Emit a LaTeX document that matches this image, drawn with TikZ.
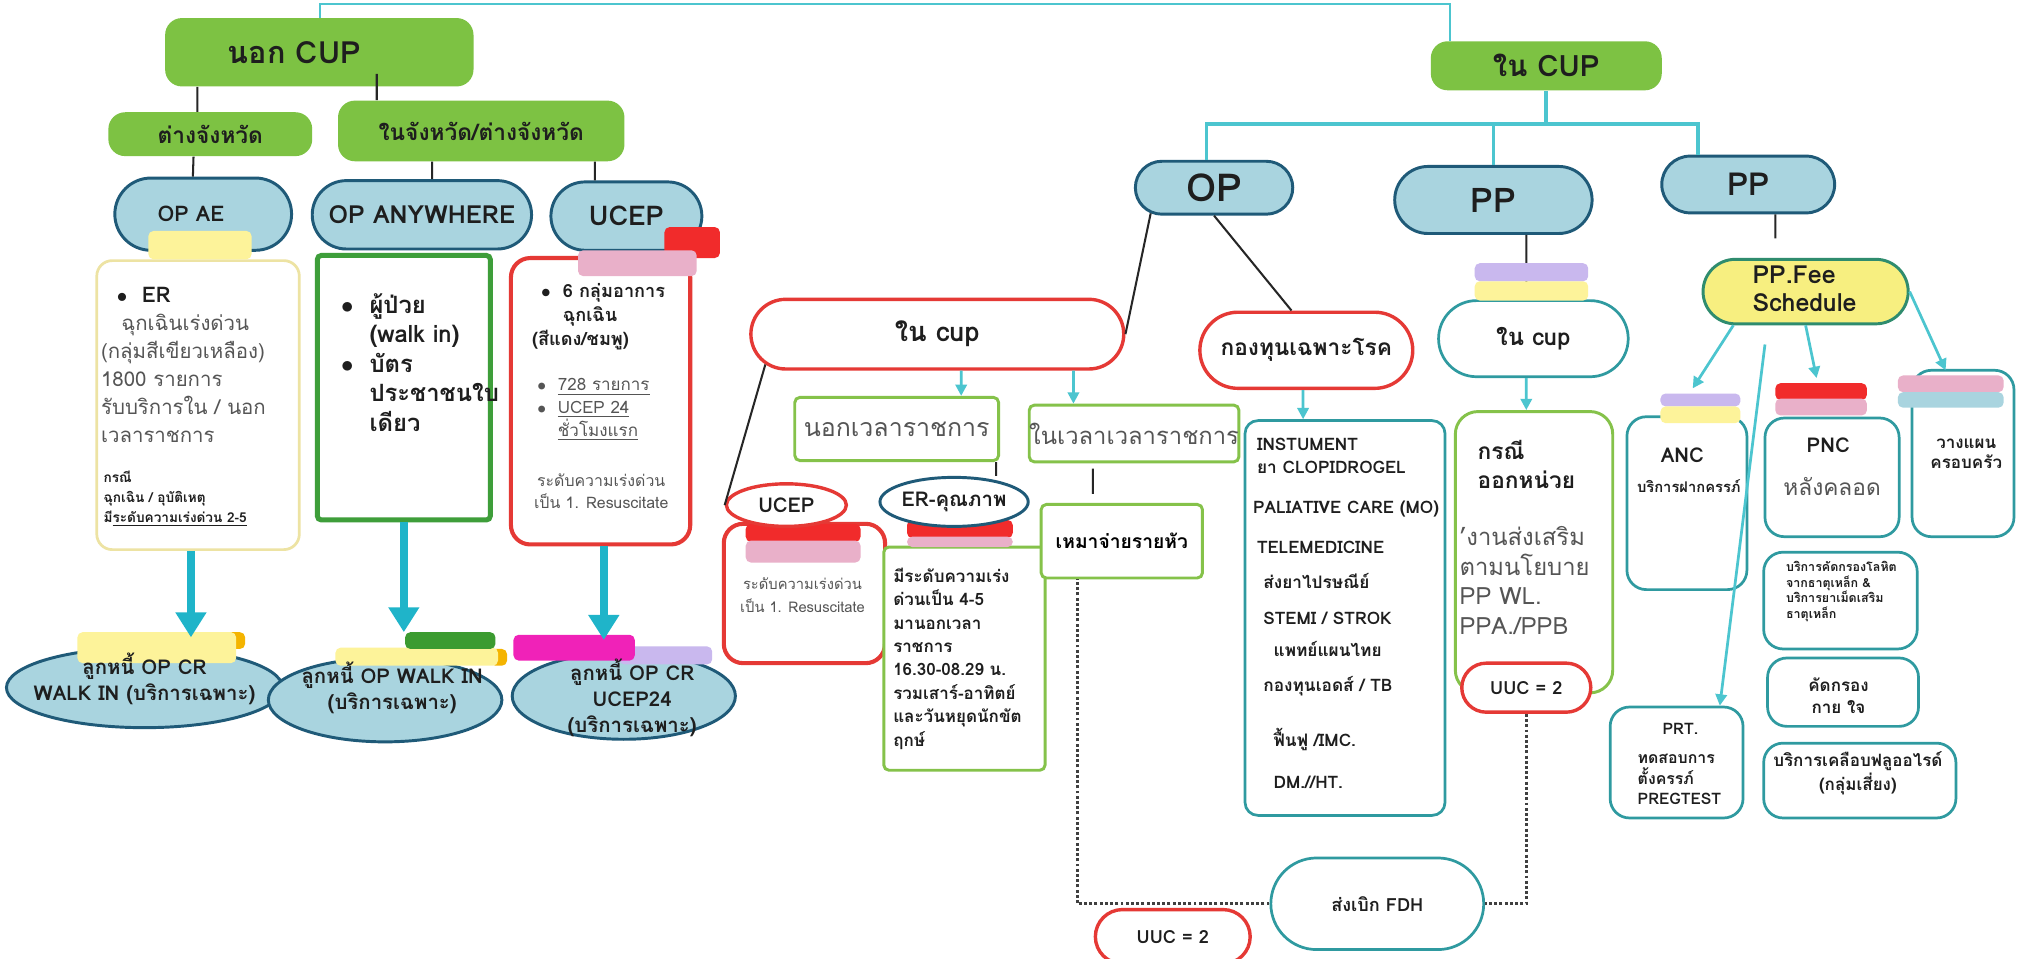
\documentclass[tikz,border=0pt]{standalone}
\usepackage{fontspec}
\setmainfont{Loma}[Script=Thai]
\usepackage{tikz}
\usetikzlibrary{positioning,arrows.meta,shapes.misc,shapes.geometric,calc}
\definecolor{palGreen}{HTML}{7DC243}
\definecolor{palBlueLt}{HTML}{A9D4DF}
\definecolor{palNavy}{HTML}{1F5A78}
\definecolor{palCyan}{HTML}{1FB4C9}
\definecolor{palCyanLt}{HTML}{4CC5CF}
\definecolor{palRed}{HTML}{E53935}
\definecolor{palLime}{HTML}{85C24A}
\definecolor{palGrnDk}{HTML}{3E9E3A}
\definecolor{palTeal}{HTML}{2F9AA0}
\definecolor{palSand}{HTML}{EDE3A3}
\definecolor{palInk}{HTML}{1E1E1E}
\definecolor{palGrayTx}{HTML}{555555}
\definecolor{tabYellow}{HTML}{FDF39A}
\definecolor{tabLav}{HTML}{C9B8EE}
\definecolor{tabPink}{HTML}{E9B0C9}
\definecolor{tabRed}{HTML}{F12B2B}
\definecolor{tabMag}{HTML}{F022B8}
\definecolor{tabGreen}{HTML}{3B9B30}
\definecolor{tabOrange}{HTML}{F4B400}
\definecolor{tabBlue}{HTML}{A9D4DF}
\definecolor{feeYellow}{HTML}{F7EF80}
\definecolor{feeEdge}{HTML}{2F8C6E}
\newcommand{\fsz}[2]{\fontsize{#1}{#2}\selectfont}
\tikzset{
  sz/.style 2 args={minimum width=#1*0.2mm, minimum height=#2*0.2mm, inner sep=0pt},
  blob/.style={rectangle, fill=palGreen, rounded corners=2.6mm, text=palInk},
  pill/.style={rounded rectangle, draw=palNavy, line width=1.3pt, fill=palBlueLt,
               text=palInk},
  pillred/.style={rounded rectangle, draw=palRed, line width=1.5pt, fill=white,
                  text=palInk},
  pillteal/.style={rounded rectangle, draw=palTeal, line width=1.2pt, fill=white,
                   text=palInk},
  oval/.style={ellipse, draw=palNavy, line width=1.3pt, fill=palBlueLt},
  ovalred/.style={ellipse, draw=palRed, line width=1.5pt, fill=white, text=palInk},
  ovalnavy/.style={ellipse, draw=palNavy, line width=1.3pt, fill=white, text=palInk},
  card/.style={rectangle, draw=#1, fill=white, line width=1.2pt, rounded corners=2.4mm},
  card/.default=palLime,
  tabbar/.style={rounded corners=0.8mm},
  txt/.style={anchor=west, align=left, inner sep=0pt, text=palInk},
  lbl/.style={align=center, inner sep=0pt, text=palInk},
  elltx/.style={lbl, font=\fsz{9}{11.5}\bfseries},
  link/.style={draw=black!85, line width=0.9pt},
  topline/.style={draw=palCyanLt, line width=0.7pt},
  treeline/.style={draw=palCyanLt, line width=1.6pt},
  bigarrow/.style={draw=palCyan, line width=3.4pt, -{Triangle[width=13pt,length=11pt]}},
  thinarrow/.style={draw=palCyanLt, line width=1.2pt, -{Triangle[width=5pt,length=5pt]}},
  dotline/.style={draw=black!75, line width=1.3pt, densely dotted},
}

\begin{document}
\begin{tikzpicture}[x=0.2mm, y=-0.2mm]
\useasboundingbox (0,0) rectangle (1568,743);
\fill[white] (0,0) rectangle (1568,743);

%% Outside CUP
\node[blob, sz={239}{53}, font=\fsz{13.5}{15}\bfseries] (nocup) at (247.5,40.5) {\hspace*{-7.8mm}นอก CUP};
\node[blob, sz={158}{34}, font=\fsz{10}{12}\bfseries] (tjw)  at (163,104)   {ต่างจังหวัด};
\node[blob, sz={222}{47}, font=\fsz{10}{12}\bfseries] (injw) at (373,101.5) {ในจังหวัด/ต่างจังหวัด};

\node[pill, sz={137}{56}, font=\fsz{9.5}{11}\bfseries] (opae)  at (157.5,166) {\hspace*{-3.8mm}OP AE};
\node[pill, sz={170}{53}, font=\fsz{11}{13}\bfseries]  (opany) at (327,166.5)  {OP ANYWHERE};
\node[pill, sz={117}{53}, font=\fsz{12}{14}\bfseries]  (ucep1) at (485.5,167.5) {UCEP};

\draw[link] ([xshift=-18.9mm]nocup.south) -- ([xshift=-2mm]tjw.north);
\draw[link] ([xshift=8.9mm,yshift=2mm]nocup.south) -- ([xshift=-16.2mm]injw.north);
\draw[link] ([xshift=-2.6mm]tjw.south) -- ([xshift=-1.6mm]opae.north);
\draw[link] ([xshift=-7.6mm]injw.south) -- ([xshift=1.6mm]opany.north);
\draw[link] ([xshift=17.6mm]injw.south) -- ([xshift=-4.9mm]ucep1.north);

% detail boxes
\node[card=palSand, sz={157}{224}] (box1) at (153.5,314) {};
\node[card=palGrnDk, sz={134}{205}, line width=2.2pt, rounded corners=0.6mm] (box2) at (313,300.5) {};
\node[card=palRed, sz={139}{222}, line width=1.8pt, rounded corners=3mm] (box3) at (465.5,311) {};

\fill[tabbar, tabYellow] (115,179) rectangle (195,201);
\fill[tabbar, tabRed]    (515,176) rectangle (558,200);
\fill[tabbar, tabPink]   (448,194) rectangle (540,214);

\node[txt, font=\fsz{9}{12.3}, text=palGrayTx] (ertx) at (78,283)
  {\hspace*{7pt}{\color{palInk}\fsz{9.5}{12.3}\bfseries$\bullet$\ \ ER}\\\hspace*{9pt}ฉุกเฉินเร่งด่วน\\(กลุ่มสีเขียวเหลือง)\\1800 รายการ\\รับบริการใน / นอก\\เวลาราชการ};
\node[txt, font=\fsz{6}{8.8}\bfseries] (ercase) at (80,386.5)
  {กรณี\\ฉุกเฉิน / อุบัติเหตุ\\มี\underline{ระดับความเร่งด่วน 2-5}};
\node[txt, font=\fsz{10.5}{13}\bfseries] (walktx) at (264,281)
  {$\bullet$\ \ ผู้ป่วย\\\phantom{$\bullet$\ \ }(walk in)\\$\bullet$\ \ บัตร\\\phantom{$\bullet$\ \ }ประชาชนใบ\\\phantom{$\bullet$\ \ }เดียว};
\node[txt, font=\fsz{8}{10.5}\bfseries] (uceptx) at (412,245.5)
  {\hspace*{4pt}$\bullet$\ \ 6 กลุ่มอาการ\\\hspace*{4pt}\phantom{$\bullet$\ \ }ฉุกเฉิน\\(สีแดง/ชมพู)};
\node[txt, font=\fsz{7.5}{10}, text=palGrayTx] (ucepls) at (416,317.5)
  {$\bullet$\ \ \underline{728 รายการ}\\$\bullet$\ \ \underline{UCEP 24}\\\phantom{$\bullet$\ \ }\underline{ชั่วโมงแรก}};
\node[lbl, font=\fsz{7}{9.7}, text=palGrayTx] (ucepres) at (466,380.5)
  {ระดับความเร่งด่วน\\เป็น 1. Resuscitate};

% debtor ovals
\node[oval, sz={214}{62}] (ell1) at (112,533)   {};
\node[oval, sz={181}{65}] (ell2) at (298.5,542.5) {};
\node[oval, sz={173}{67}] (ell3) at (483.5,539.5) {};

\fill[tabbar, tabOrange] (176,490) rectangle (190,503);
\fill[tabbar, tabYellow] (60,490)  rectangle (183,514);
\fill[tabbar, tabOrange] (380,503) rectangle (393,516);
\fill[tabbar, tabYellow] (260,502) rectangle (386,516);
\fill[tabbar, tabGreen]  (314,490) rectangle (384,503);
\fill[tabbar, tabLav]    (480,501) rectangle (552,515);
\fill[tabbar, tabMag]    (398,492) rectangle (492,512);

\coordinate (tip1) at (148,494);
\coordinate (tip2) at (313,490);
\coordinate (tip3) at (468,496);
\draw[bigarrow] (box1.south -| tip1) -- (tip1);
\draw[bigarrow] (box2.south -| tip2) -- (tip2);
\draw[bigarrow] (box3.south -| tip3) -- (tip3);

\node[elltx] (ell1tx) at (112,526.5) {ลูกหนี้ OP CR\\WALK IN (บริการเฉพาะ)};
\node[elltx] (ell2tx) at (304,533)   {ลูกหนี้ OP WALK IN\\(บริการเฉพาะ)};
\node[elltx] (ell3tx) at (490,541)   {ลูกหนี้ OP CR\\UCEP24\\(บริการเฉพาะ)};

%% Inside CUP
\node[blob, sz={179}{38}, font=\fsz{13}{15}\bfseries] (incup) at (1198.5,51) {ใน CUP};
\node[pill, sz={122}{41}, font=\fsz{17}{19}\bfseries] (op)  at (941,145.5)  {OP};
\node[pill, sz={153}{52}, font=\fsz{15}{17}\bfseries] (pp1) at (1157.5,155) {PP};
\node[pill, sz={134}{44}, font=\fsz{14}{16}\bfseries] (pp2) at (1355,143)   {PP};

% top link between branches
\coordinate (topL) at (248,3);
\coordinate (topR) at (1124,3);
\draw[topline] (topL |- nocup.north) -- (topL) -- (topR) -- (topR |- incup.north);

\coordinate (barL) at (935,96);
\coordinate (barR) at (1316,96);
\draw[treeline] (incup.south) -- (incup.south |- barL);
\draw[treeline] (barL |- op.north) -- (barL) -- (barR) -- (barR |- pp2.north);
\draw[treeline] (pp1.north) -- (pp1.north |- barL);

%% OP branch
\node[pillred, sz={289}{54}, font=\fsz{12}{14}\bfseries] (incup1)  at (726.5,259)   {ใน cup};
\node[pillred, sz={165}{59}, font=\fsz{10}{12}\bfseries] (kongtun) at (1012.5,271.5) {กองทุนเฉพาะโรค};
\draw[link] (op.202) -- (incup1.east);
\draw[link] (op.south) -- ([xshift=-2.3mm]kongtun.north);

\node[card, sz={158}{49}, line width=1.3pt, rounded corners=0.8mm, font=\fsz{11}{13}, text=palGrayTx] (nokwela) at (695,332.5) {นอกเวลาราชการ};
\node[card, sz={160}{44}, line width=1.3pt, rounded corners=0.8mm, font=\fsz{10.5}{12.5}, text=palGrayTx] (naiwela) at (879,336) {ในเวลาเวลาราชการ};
\draw[thinarrow] ([xshift=3.7mm]incup1.south) -- ([xshift=10mm]nokwela.north);
\draw[thinarrow] ([xshift=21.1mm]incup1.south) -- ([xshift=-9.4mm]naiwela.north);

\node[card=palRed, sz={125}{108}, line width=1.8pt, rounded corners=3mm] (ucepbox) at (623.5,460) {};
\node[card, sz={125}{173}, line width=1.3pt, rounded corners=0.8mm] (erbox) at (747.5,510.5) {};
\node[card, sz={125}{57}, line width=1.3pt, rounded corners=0.8mm, font=\fsz{8.5}{10}\bfseries] (mhao) at (869.5,419.5) {เหมาจ่ายรายหัว};

\fill[tabbar, tabRed]  (578,406) rectangle (667,420);
\fill[tabbar, tabPink] (578,419) rectangle (667,436);
\fill[tabbar, tabRed]  (703,403) rectangle (785,417);
\fill[tabbar, tabPink] (703,416) rectangle (785,424);

\node[ovalred, sz={93}{33}, font=\fsz{9}{11}\bfseries]  (ucep2) at (609.5,391.5) {UCEP};
\node[ovalnavy, sz={89}{38}, font=\fsz{9}{11}\bfseries] (erq)   at (739.5,389)   {ER-คุณภาพ};
\draw[link] (incup1.190) -- (ucep2.west);
\draw[link] ([xshift=15.4mm]nokwela.south) -- ([xshift=6.5mm]erq.north);
\draw[link, shorten <=0.8mm, shorten >=1.4mm] ([xshift=-6.4mm]naiwela.south) -- ([xshift=-4.5mm]mhao.north);

\node[lbl, font=\fsz{6.5}{10.2}, text=palGrayTx] (ucepboxtx) at (622,461) {ระดับความเร่งด่วน\\เป็น 1. Resuscitate};
\node[txt, font=\fsz{7.5}{10.3}\bfseries] (erboxtx) at (692,510.5)
  {มีระดับความเร่ง\\ด่วนเป็น 4-5\\มานอกเวลา\\ราชการ\\16.30-08.29 น.\\รวมเสาร์-อาทิตย์\\และวันหยุดนักขัต\\ฤกษ์};

\node[card=palTeal, sz={155}{306}, rounded corners=2mm] (instbox) at (1042.5,479) {};
\draw[thinarrow] ([xshift=-0.5mm]kongtun.south) -- ([xshift=-6.5mm]instbox.north);
\node[txt, font=\fsz{7.6}{10.2}\bfseries] (insttx) at (971,475.5)
  {\hspace*{1.7pt}INSTUMENT\\\hspace*{1.7pt}ยา CLOPIDROGEL\\[7.4pt]PALIATIVE CARE (MO)\\[7.4pt]\hspace*{1.7pt}TELEMEDICINE\\[5.1pt]\hspace*{4.5pt}ส่งยาไปรษณีย์\\[5.7pt]\hspace*{4.5pt}STEMI / STROK\\[4pt]\hspace*{9pt}แพทย์แผนไทย\\[5.1pt]\hspace*{4.5pt}กองทุนเอดส์ / TB\\[14.2pt]\hspace*{9pt}ฟื้นฟู /IMC.\\[8.5pt]\hspace*{9pt}DM.//HT.};

%% PP branch (middle)
\node[pillteal, sz={147}{59}, font=\fsz{10.5}{12.5}\bfseries] (incup2) at (1188.5,262.5) {ใน cup};
\draw[link] ([xshift=5.1mm]pp1.south) -- ([xshift=-1.1mm]incup2.north);
\fill[tabbar, tabLav]    (1143,204) rectangle (1231,218);
\fill[tabbar, tabYellow] (1143,218) rectangle (1231,233);

\node[card, sz={122}{218}, line width=1.3pt, rounded corners=3.5mm] (kornee) at (1189,428) {};
\draw[thinarrow] ([xshift=-1.1mm]incup2.south) -- ([xshift=-1.2mm]kornee.north);
\node[txt, font=\fsz{10}{12.5}\bfseries] (korneetx) at (1145,360) {กรณี\\ออกหน่วย};
\node[txt, font=\fsz{10.5}{13}, text=palGrayTx] (promotx) at (1131,450) {’งานส่งเสริม\\ตามนโยบาย\\PP WL.\\PPA./PPB};

\node[pillred, sz={100}{38}, font=\fsz{8}{10}\bfseries] (uuc1) at (1183,533) {UUC = 2};
\node[pillteal, sz={165}{71}, font=\fsz{8}{10}\bfseries] (fdh)  at (1067.5,700.5) {ส่งเบิก FDH};
\node[pillred, sz={120}{42}, font=\fsz{8}{10}\bfseries]  (uuc2) at (909,726) {UUC = 2};
\draw[dotline] (uuc1.south) |- (fdh.east);
\draw[dotline] (fdh.west) -| ([xshift=-6.9mm]mhao.south);

%% PP branch (right)
\node[rounded rectangle, draw=feeEdge, line width=1.3pt, fill=feeYellow, sz={159}{50}] (fee) at (1399.5,226) {};
\node[txt, font=\fsz{11}{12.5}\bfseries] (feetx) at (1358,224) {PP.Fee\\Schedule};
\draw[link, shorten >=3mm] ([xshift=4.2mm]pp2.south) -- ([xshift=-4.7mm]fee.north);

\node[card=palTeal, sz={93}{134},  rounded corners=3mm] (anc)    at (1307.5,390) {};
\node[card=palTeal, sz={104}{92},  rounded corners=3mm] (pnc)    at (1420,370)   {};
\node[card=palTeal, sz={79}{129},  rounded corners=3mm] (plan)   at (1521.5,351.5) {};
\node[card=palTeal, sz={119}{75},  rounded corners=3mm] (iron)   at (1426.5,465.5) {};
\node[card=palTeal, sz={117}{53},  rounded corners=3mm] (screen) at (1428.5,536.5) {};
\node[card=palTeal, sz={149}{58},  rounded corners=3mm] (fluor)  at (1441.5,605)   {};
\node[card=palTeal, sz={103}{86},  rounded corners=3mm] (prt)    at (1299.5,591)   {};

\fill[tabbar, tabLav]    (1287,305) rectangle (1349,315);
\fill[tabbar, tabYellow] (1287,315) rectangle (1349,328);
\fill[tabbar, tabRed]    (1376,297) rectangle (1447,310);
\fill[tabbar, tabPink]   (1376,309) rectangle (1447,322);
\fill[tabbar, tabPink]   (1471,291) rectangle (1553,304);
\fill[tabbar, tabBlue]   (1471,304) rectangle (1553,316);

\coordinate (ancTab)  at (1312,301);
\coordinate (pncTab)  at (1408,293);
\coordinate (planTab) at (1508,287);
\coordinate (prtGap)  at (1368,267);
\draw[thinarrow] (fee.205)   -- (ancTab);
\draw[thinarrow] (fee.south) -- (pncTab);
\draw[thinarrow] (fee.east)  -- (planTab);
\draw[thinarrow] (prtGap) -- ([xshift=6.7mm]prt.north);

\node[lbl, font=\fsz{9}{11}\bfseries]   (anctx)  at (1304,353) {ANC};
\node[lbl, font=\fsz{6.5}{8}\bfseries]  (ancsub) at (1309,377) {บริการฝากครรภ์};
\node[lbl, font=\fsz{9}{11}\bfseries]   (pnctx)  at (1417,345) {PNC};
\node[lbl, font=\fsz{10}{12}, text=palGrayTx] (pncsub) at (1420,377) {หลังคลอด};
\node[lbl, font=\fsz{7.5}{9}\bfseries]  (plantx) at (1524,351.5) {วางแผน\\ครอบครัว};
\node[txt, font=\fsz{5.5}{7}\bfseries]  (irontx) at (1384,458.5)
  {บริการคัดกรองโลหิต\\จากธาตุเหล็ก \&\\บริการยาเม็ดเสริม\\ธาตุเหล็ก};
\node[lbl, font=\fsz{7.5}{9.7}\bfseries] (screentx) at (1425,539.5) {คัดกรอง\\กาย ใจ};
\node[lbl, font=\fsz{7.5}{8.8}\bfseries] (fluortx)  at (1440,599.5) {บริการเคลือบฟลูออไรด์\\(กลุ่มเสี่ยง)};
\node[txt, font=\fsz{7}{9}\bfseries]     (prttx)    at (1269,592)
  {\hspace*{11pt}PRT.\\[4pt]ทดสอบการ\\ตั้งครรภ์\\PREGTEST};
\end{tikzpicture}
\end{document}
